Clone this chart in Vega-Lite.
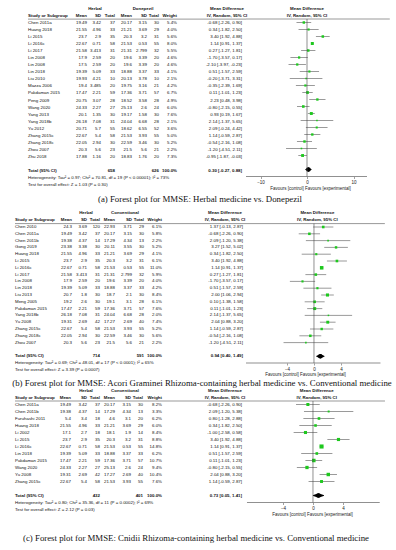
{
"$schema": "https://vega.github.io/schema/vega-lite/v6.json",
"padding": {"top": 5, "left": 0, "right": 0, "bottom": 0},
"columns": 2,
"spacing": {"row": 6, "column": 0},
"bounds": "flush",
"align": "each",
"config": {
 "view": {"stroke": null},
 "text": {"font": "Liberation Sans", "fontSize": 4.4, "baseline": "middle", "color": "#111"},
 "title": {"font": "Liberation Serif", "fontSize": 8.8, "fontWeight": "normal", "color": "#111"}
},
"datasets": {
"a": [
{"study":"Chen 2011a","hm":19.49,"hsd":3.42,"ht":37,"cm":20.17,"csd":3.15,"ct":30,"w":0.054,"md":-0.68,"lo":-2.26,"hi":0.9,"ci":"-0.68 [-2.26, 0.90]"},
{"study":"Huang 2018","hm":21.55,"hsd":4.96,"ht":33,"cm":21.21,"csd":3.69,"ct":29,"w":0.040,"md":0.34,"lo":-1.82,"hi":2.5,"ci":"0.34 [-1.82, 2.50]"},
{"study":"Li 2015","hm":23.7,"hsd":2.9,"ht":35,"cm":20.3,"csd":3.2,"ct":31,"w":0.056,"md":3.4,"lo":1.92,"hi":4.88,"ci":"3.40 [1.92, 4.88]"},
{"study":"Li 2016c","hm":22.67,"hsd":0.71,"ht":58,"cm":21.53,"csd":0.53,"ct":55,"w":0.080,"md":1.14,"lo":0.91,"hi":1.37,"ci":"1.14 [0.91, 1.37]"},
{"study":"Li 2017","hm":21.58,"hsd":3.413,"ht":31,"cm":21.31,"csd":2.799,"ct":32,"w":0.055,"md":0.27,"lo":-1.27,"hi":1.81,"ci":"0.27 [-1.27, 1.81]"},
{"study":"Lin 2008","hm":17.9,"hsd":2.59,"ht":20,"cm":19.6,"csd":3.39,"ct":20,"w":0.046,"md":-1.7,"lo":-3.57,"hi":0.17,"ci":"-1.70 [-3.57, 0.17]"},
{"study":"Lin 2008 ","hm":17.5,"hsd":2.59,"ht":20,"cm":19.6,"csd":3.39,"ct":20,"w":0.046,"md":-2.1,"lo":-3.97,"hi":-0.23,"ci":"-2.10 [-3.97, -0.23]"},
{"study":"Lin 2018","hm":19.39,"hsd":5.09,"ht":33,"cm":18.88,"csd":3.37,"ct":33,"w":0.041,"md":0.51,"lo":-1.57,"hi":2.59,"ci":"0.51 [-1.57, 2.59]"},
{"study":"Liu 2010","hm":19.93,"hsd":4.21,"ht":10,"cm":20.13,"csd":3.78,"ct":10,"w":0.021,"md":-0.2,"lo":-3.71,"hi":3.31,"ci":"-0.20 [-3.71, 3.31]"},
{"study":"Mazza 2006","hm":19.4,"hsd":3.485,"ht":20,"cm":19.75,"csd":3.16,"ct":21,"w":0.042,"md":-0.35,"lo":-2.39,"hi":1.69,"ci":"-0.35 [-2.39, 1.69]"},
{"study":"Pakdaman 2015","hm":17.47,"hsd":2.21,"ht":59,"cm":17.36,"csd":3.71,"ct":57,"w":0.067,"md":0.11,"lo":-1.01,"hi":1.23,"ci":"0.11 [-1.01, 1.23]"},
{"study":"Peng 2009","hm":20.75,"hsd":3.07,"ht":28,"cm":18.52,"csd":3.58,"ct":28,"w":0.049,"md":2.23,"lo":0.48,"hi":3.98,"ci":"2.23 [0.48, 3.98]"},
{"study":"Wang 2020","hm":24.33,"hsd":2.27,"ht":27,"cm":25.13,"csd":2.6,"ct":24,"w":0.060,"md":-0.8,"lo":-2.15,"hi":0.55,"ci":"-0.80 [-2.15, 0.55]"},
{"study":"Yang 2013","hm":20.1,"hsd":1.35,"ht":30,"cm":19.17,"csd":1.58,"ct":30,"w":0.076,"md":0.93,"lo":0.19,"hi":1.67,"ci":"0.93 [0.19, 1.67]"},
{"study":"Yang 2018b","hm":26.18,"hsd":7.08,"ht":31,"cm":24.04,"csd":6.68,"ct":28,"w":0.021,"md":2.14,"lo":-1.37,"hi":5.65,"ci":"2.14 [-1.37, 5.65]"},
{"study":"Yu 2012","hm":20.71,"hsd":5.7,"ht":55,"cm":18.62,"csd":6.55,"ct":52,"w":0.036,"md":2.09,"lo":-0.24,"hi":4.42,"ci":"2.09 [-0.24, 4.42]"},
{"study":"Zhang 2015c","hm":22.67,"hsd":5.4,"ht":58,"cm":21.53,"csd":3.93,"ct":55,"w":0.050,"md":1.14,"lo":-0.59,"hi":2.87,"ci":"1.14 [-0.59, 2.87]"},
{"study":"Zhang 2018c","hm":22.05,"hsd":2.94,"ht":30,"cm":22.59,"csd":3.46,"ct":30,"w":0.052,"md":-0.54,"lo":-2.16,"hi":1.08,"ci":"-0.54 [-2.16, 1.08]"},
{"study":"Zhou 2007","hm":20.3,"hsd":5.6,"ht":23,"cm":21.5,"csd":5.6,"ct":21,"w":0.022,"md":-1.2,"lo":-4.51,"hi":2.11,"ci":"-1.20 [-4.51, 2.11]"},
{"study":"Zhu 2018","hm":17.88,"hsd":1.16,"ht":20,"cm":18.83,"csd":1.76,"ct":20,"w":0.073,"md":-0.95,"lo":-1.87,"hi":-0.03,"ci":"-0.95 [-1.87, -0.03]"}
],
"aT": [{"study":"Total (95% CI)","ht":658,"ct":626,"w":1,"md":0.3,"lo":-0.27,"hi":0.88,"ci":"0.30 [-0.27, 0.88]"}],
"b": [
{"study":"Chen 2010","hm":24.3,"hsd":3.69,"ht":120,"cm":22.93,"csd":3.71,"ct":29,"w":0.061,"md":1.37,"lo":-0.13,"hi":2.87,"ci":"1.37 [-0.13, 2.87]"},
{"study":"Chen 2011a","hm":19.49,"hsd":3.42,"ht":37,"cm":20.17,"csd":3.15,"ct":30,"w":0.058,"md":-0.68,"lo":-2.26,"hi":0.9,"ci":"-0.68 [-2.26, 0.90]"},
{"study":"Chen 2011b","hm":19.38,"hsd":4.37,"ht":14,"cm":17.29,"csd":4.34,"ct":13,"w":0.022,"md":2.09,"lo":-1.2,"hi":5.38,"ci":"2.09 [-1.20, 5.38]"},
{"study":"Gong 2019","hm":23.38,"hsd":3.38,"ht":30,"cm":20.11,"csd":3.55,"ct":30,"w":0.052,"md":3.27,"lo":1.52,"hi":5.02,"ci":"3.27 [1.52, 5.02]"},
{"study":"Huang 2018","hm":21.55,"hsd":4.96,"ht":33,"cm":21.21,"csd":3.69,"ct":29,"w":0.041,"md":0.34,"lo":-1.82,"hi":2.5,"ci":"0.34 [-1.82, 2.50]"},
{"study":"Li 2015","hm":23.7,"hsd":2.9,"ht":35,"cm":20.3,"csd":3.2,"ct":31,"w":0.061,"md":3.4,"lo":1.92,"hi":4.88,"ci":"3.40 [1.92, 4.88]"},
{"study":"Li 2016c","hm":22.67,"hsd":0.71,"ht":58,"cm":21.53,"csd":0.53,"ct":55,"w":0.110,"md":1.14,"lo":0.91,"hi":1.37,"ci":"1.14 [0.91, 1.37]"},
{"study":"Li 2017","hm":21.58,"hsd":3.413,"ht":31,"cm":21.31,"csd":2.799,"ct":32,"w":0.059,"md":0.27,"lo":-1.27,"hi":1.81,"ci":"0.27 [-1.27, 1.81]"},
{"study":"Lin 2008","hm":17.9,"hsd":2.59,"ht":20,"cm":19.6,"csd":3.39,"ct":20,"w":0.040,"md":-1.7,"lo":-3.57,"hi":0.17,"ci":"-1.70 [-3.57, 0.17]"},
{"study":"Lin 2018","hm":19.39,"hsd":5.09,"ht":33,"cm":18.88,"csd":3.37,"ct":33,"w":0.042,"md":0.51,"lo":-1.57,"hi":2.59,"ci":"0.51 [-1.57, 2.59]"},
{"study":"Liu 2013","hm":20.7,"hsd":1.8,"ht":30,"cm":18.7,"csd":2.1,"ct":30,"w":0.084,"md":2.0,"lo":1.06,"hi":2.94,"ci":"2.00 [1.06, 2.94]"},
{"study":"Meng 2005","hm":19.2,"hsd":2.6,"ht":30,"cm":19.1,"csd":3.1,"ct":28,"w":0.061,"md":0.1,"lo":-1.38,"hi":1.58,"ci":"0.10 [-1.38, 1.58]"},
{"study":"Pakdaman 2015","hm":17.47,"hsd":2.21,"ht":59,"cm":17.36,"csd":3.71,"ct":57,"w":0.076,"md":0.11,"lo":-1.01,"hi":1.23,"ci":"0.11 [-1.01, 1.23]"},
{"study":"Yang 2018b","hm":26.18,"hsd":7.08,"ht":31,"cm":24.04,"csd":6.68,"ct":28,"w":0.020,"md":2.14,"lo":-1.37,"hi":5.65,"ci":"2.14 [-1.37, 5.65]"},
{"study":"Yu 2008","hm":19.31,"hsd":2.69,"ht":42,"cm":17.27,"csd":2.69,"ct":40,"w":0.074,"md":2.04,"lo":0.88,"hi":3.2,"ci":"2.04 [0.88, 3.20]"},
{"study":"Zhang 2015c","hm":22.67,"hsd":5.4,"ht":58,"cm":21.53,"csd":3.93,"ct":55,"w":0.052,"md":1.14,"lo":-0.59,"hi":2.87,"ci":"1.14 [-0.59, 2.87]"},
{"study":"Zhang 2018c","hm":22.05,"hsd":2.94,"ht":30,"cm":22.59,"csd":3.46,"ct":30,"w":0.056,"md":-0.54,"lo":-2.16,"hi":1.08,"ci":"-0.54 [-2.16, 1.08]"},
{"study":"Zhou 2007","hm":20.3,"hsd":5.6,"ht":23,"cm":21.5,"csd":5.6,"ct":21,"w":0.022,"md":-1.2,"lo":-4.51,"hi":2.11,"ci":"-1.20 [-4.51, 2.11]"}
],
"bT": [{"study":"Total (95% CI)","ht":714,"ct":591,"w":1,"md":0.94,"lo":0.4,"hi":1.49,"ci":"0.94 [0.40, 1.49]"}],
"c": [
{"study":"Chen 2011a","hm":19.49,"hsd":3.42,"ht":37,"cm":20.17,"csd":3.15,"ct":30,"w":0.082,"md":-0.68,"lo":-2.26,"hi":0.9,"ci":"-0.68 [-2.26, 0.90]"},
{"study":"Chen 2011b","hm":19.38,"hsd":4.37,"ht":14,"cm":17.29,"csd":4.34,"ct":13,"w":0.033,"md":2.09,"lo":-1.2,"hi":5.38,"ci":"2.09 [-1.20, 5.38]"},
{"study":"Furuhashi 2011","hm":5.4,"hsd":3.4,"ht":18,"cm":4.6,"csd":3.1,"ct":20,"w":0.062,"md":0.8,"lo":-1.28,"hi":2.88,"ci":"0.80 [-1.28, 2.88]"},
{"study":"Huang 2018","hm":21.55,"hsd":4.96,"ht":33,"cm":21.21,"csd":3.69,"ct":29,"w":0.060,"md":0.34,"lo":-1.82,"hi":2.5,"ci":"0.34 [-1.82, 2.50]"},
{"study":"Li 2002","hm":17.1,"hsd":2.7,"ht":18,"cm":18.1,"csd":1.9,"ct":14,"w":0.084,"md":-1.0,"lo":-2.58,"hi":0.58,"ci":"-1.00 [-2.58, 0.58]"},
{"study":"Li 2015","hm":23.7,"hsd":2.9,"ht":35,"cm":20.3,"csd":3.2,"ct":31,"w":0.088,"md":3.4,"lo":1.92,"hi":4.88,"ci":"3.40 [1.92, 4.88]"},
{"study":"Li 2016c","hm":22.67,"hsd":0.71,"ht":58,"cm":21.53,"csd":0.53,"ct":55,"w":0.148,"md":1.14,"lo":0.91,"hi":1.37,"ci":"1.14 [0.91, 1.37]"},
{"study":"Lin 2018","hm":19.39,"hsd":5.09,"ht":33,"cm":18.88,"csd":3.37,"ct":33,"w":0.062,"md":0.51,"lo":-1.57,"hi":2.59,"ci":"0.51 [-1.57, 2.59]"},
{"study":"Pakdaman 2015","hm":17.47,"hsd":2.21,"ht":59,"cm":17.36,"csd":3.71,"ct":57,"w":0.107,"md":0.11,"lo":-1.01,"hi":1.23,"ci":"0.11 [-1.01, 1.23]"},
{"study":"Wang 2020","hm":24.33,"hsd":2.27,"ht":27,"cm":25.13,"csd":2.6,"ct":24,"w":0.094,"md":-0.8,"lo":-2.15,"hi":0.55,"ci":"-0.80 [-2.15, 0.55]"},
{"study":"Yu 2008","hm":19.31,"hsd":2.69,"ht":42,"cm":17.27,"csd":2.69,"ct":40,"w":0.104,"md":2.04,"lo":0.88,"hi":3.2,"ci":"2.04 [0.88, 3.20]"},
{"study":"Zhang 2015c","hm":22.67,"hsd":5.4,"ht":58,"cm":21.53,"csd":3.93,"ct":55,"w":0.076,"md":1.14,"lo":-0.59,"hi":2.87,"ci":"1.14 [-0.59, 2.87]"}
],
"cT": [{"study":"Total (95% CI)","ht":432,"ct":401,"w":1,"md":0.73,"lo":0.05,"hi":1.41,"ci":"0.73 [0.05, 1.41]"}]
},
"concat": [
{
 "width": 246, "height": {"step": 7},
 "title": {"text": "(a) Forest plot for MMSE: Herbal medicine vs. Donepezil", "orient": "bottom", "frame": "group", "anchor": "middle", "dx": 77, "dy": -8.1, "offset": 0},
 "encoding": {"y": {"field": "study", "type": "nominal", "axis": null, "scale": {"type": "band", "domain": ["h1","h2","Chen 2011a","Huang 2018","Li 2015","Li 2016c","Li 2017","Lin 2008","Lin 2008 ","Lin 2018","Liu 2010","Mazza 2006","Pakdaman 2015","Peng 2009","Wang 2020","Yang 2013","Yang 2018b","Yu 2012","Zhang 2015c","Zhang 2018c","Zhou 2007","Zhu 2018","gap","Total (95% CI)","het","test"], "paddingInner": 0, "paddingOuter": 1.15, "align": 0}}},
 "layer": [
  {"data": {"name": "a"}, "mark": {"type": "text", "align": "left"}, "encoding": {"x": {"datum": 28, "axis": null, "scale": {"domain": [0, 246], "nice": false, "zero": false}}, "text": {"field": "study", "type": "nominal"}}},
  {"data": {"name": "a"}, "mark": {"type": "text", "align": "right"}, "encoding": {"x": {"datum": 87, "axis": null}, "text": {"field": "hm", "type": "nominal"}}},
  {"data": {"name": "a"}, "mark": {"type": "text", "align": "right"}, "encoding": {"x": {"datum": 101, "axis": null}, "text": {"field": "hsd", "type": "nominal"}}},
  {"data": {"name": "a"}, "mark": {"type": "text", "align": "right"}, "encoding": {"x": {"datum": 115, "axis": null}, "text": {"field": "ht", "type": "nominal"}}},
  {"data": {"name": "a"}, "mark": {"type": "text", "align": "right"}, "encoding": {"x": {"datum": 132, "axis": null}, "text": {"field": "cm", "type": "nominal"}}},
  {"data": {"name": "a"}, "mark": {"type": "text", "align": "right"}, "encoding": {"x": {"datum": 147, "axis": null}, "text": {"field": "csd", "type": "nominal"}}},
  {"data": {"name": "a"}, "mark": {"type": "text", "align": "right"}, "encoding": {"x": {"datum": 159, "axis": null}, "text": {"field": "ct", "type": "nominal"}}},
  {"data": {"name": "a"}, "mark": {"type": "text", "align": "right"}, "encoding": {"x": {"datum": 177, "axis": null}, "text": {"field": "w", "type": "quantitative", "format": ".1%"}}},
  {"data": {"name": "a"}, "mark": {"type": "text", "align": "right"}, "encoding": {"x": {"datum": 242, "axis": null}, "text": {"field": "ci", "type": "nominal"}}},
  {"data": {"name": "aT"}, "mark": {"type": "text", "align": "left", "fontWeight": "bold"}, "encoding": {"x": {"datum": 28, "axis": null}, "text": {"field": "study", "type": "nominal"}}},
  {"data": {"name": "aT"}, "mark": {"type": "text", "align": "right", "fontWeight": "bold"}, "encoding": {"x": {"datum": 115, "axis": null}, "text": {"field": "ht", "type": "nominal"}}},
  {"data": {"name": "aT"}, "mark": {"type": "text", "align": "right", "fontWeight": "bold"}, "encoding": {"x": {"datum": 159, "axis": null}, "text": {"field": "ct", "type": "nominal"}}},
  {"data": {"name": "aT"}, "mark": {"type": "text", "align": "right", "fontWeight": "bold"}, "encoding": {"x": {"datum": 177, "axis": null}, "text": {"field": "w", "type": "quantitative", "format": ".1%"}}},
  {"data": {"name": "aT"}, "mark": {"type": "text", "align": "right", "fontWeight": "bold"}, "encoding": {"x": {"datum": 242, "axis": null}, "text": {"field": "ci", "type": "nominal"}}},
  {"data": {"values": [{}]}, "mark": {"type": "text", "align": "center", "fontWeight": "bold", "text": "Herbal"}, "encoding": {"x": {"datum": 95, "axis": null}, "y": {"datum": "h1", "axis": null}}},
  {"data": {"values": [{}]}, "mark": {"type": "text", "align": "center", "fontWeight": "bold", "text": "Donepezil"}, "encoding": {"x": {"datum": 143, "axis": null}, "y": {"datum": "h1", "axis": null}}},
  {"data": {"values": [{}]}, "mark": {"type": "text", "align": "center", "fontWeight": "bold", "text": "Mean Difference"}, "encoding": {"x": {"datum": 227, "axis": null}, "y": {"datum": "h1", "axis": null}}},
  {"data": {"values": [{}]}, "mark": {"type": "text", "align": "left", "fontWeight": "bold", "text": "Study or Subgroup"}, "encoding": {"x": {"datum": 28, "axis": null}, "y": {"datum": "h2", "axis": null}}},
  {"data": {"values": [{}]}, "mark": {"type": "text", "align": "right", "fontWeight": "bold", "text": "Mean"}, "encoding": {"x": {"datum": 87, "axis": null}, "y": {"datum": "h2", "axis": null}}},
  {"data": {"values": [{}]}, "mark": {"type": "text", "align": "right", "fontWeight": "bold", "text": "SD"}, "encoding": {"x": {"datum": 101, "axis": null}, "y": {"datum": "h2", "axis": null}}},
  {"data": {"values": [{}]}, "mark": {"type": "text", "align": "right", "fontWeight": "bold", "text": "Total"}, "encoding": {"x": {"datum": 115, "axis": null}, "y": {"datum": "h2", "axis": null}}},
  {"data": {"values": [{}]}, "mark": {"type": "text", "align": "right", "fontWeight": "bold", "text": "Mean"}, "encoding": {"x": {"datum": 132, "axis": null}, "y": {"datum": "h2", "axis": null}}},
  {"data": {"values": [{}]}, "mark": {"type": "text", "align": "right", "fontWeight": "bold", "text": "SD"}, "encoding": {"x": {"datum": 147, "axis": null}, "y": {"datum": "h2", "axis": null}}},
  {"data": {"values": [{}]}, "mark": {"type": "text", "align": "right", "fontWeight": "bold", "text": "Total"}, "encoding": {"x": {"datum": 159, "axis": null}, "y": {"datum": "h2", "axis": null}}},
  {"data": {"values": [{}]}, "mark": {"type": "text", "align": "right", "fontWeight": "bold", "text": "Weight"}, "encoding": {"x": {"datum": 177, "axis": null}, "y": {"datum": "h2", "axis": null}}},
  {"data": {"values": [{}]}, "mark": {"type": "text", "align": "center", "fontWeight": "bold", "text": "IV, Random, 95% CI"}, "encoding": {"x": {"datum": 227, "axis": null}, "y": {"datum": "h2", "axis": null}}},
  {"data": {"values": [{}]}, "mark": {"type": "text", "align": "left", "text": "Heterogeneity: Tau² = 0.97; Chi² = 70.81, df = 19 (P < 0.00001); I² = 73%"}, "encoding": {"x": {"datum": 28, "axis": null}, "y": {"datum": "het", "axis": null}}},
  {"data": {"values": [{}]}, "mark": {"type": "text", "align": "left", "text": "Test for overall effect: Z = 1.03 (P = 0.30)"}, "encoding": {"x": {"datum": 28, "axis": null}, "y": {"datum": "test", "axis": null}}},
  {"data": {"values": [{}]}, "mark": {"type": "rule", "color": "#333", "strokeWidth": 0.5, "yOffset": 3.5}, "encoding": {"x": {"datum": 28, "axis": null}, "x2": {"datum": 246}, "y": {"datum": "h2", "axis": null}}}
 ]
},
{
 "width": 150, "height": {"step": 7},
 "resolve": {"scale": {"size": "independent"}},
 "encoding": {"y": {"field": "study", "type": "nominal", "axis": null, "scale": {"type": "band", "domain": ["h1","h2","Chen 2011a","Huang 2018","Li 2015","Li 2016c","Li 2017","Lin 2008","Lin 2008 ","Lin 2018","Liu 2010","Mazza 2006","Pakdaman 2015","Peng 2009","Wang 2020","Yang 2013","Yang 2018b","Yu 2012","Zhang 2015c","Zhang 2018c","Zhou 2007","Zhu 2018","gap","Total (95% CI)"], "paddingInner": 0, "paddingOuter": 0.25, "align": 0}}},
 "layer": [
  {"data": {"name": "a"}, "mark": {"type": "rule", "color": "#555", "strokeWidth": 0.6}, "encoding": {"x": {"field": "lo", "type": "quantitative", "scale": {"domain": [-13.12, 19.14], "nice": false, "zero": false}, "axis": {"values": [-10, -5, 0, 5, 10], "domain": false, "grid": false, "tickSize": 2, "tickColor": "#444", "tickWidth": 0.5, "labelFontSize": 4.5, "labelFont": "Liberation Sans", "labelColor": "#222", "labelPadding": 1, "labelFlush": false, "labelOverlap": false, "title": "Favours [control]   Favours [experimental]", "titleFont": "Liberation Sans", "titleFontSize": 4.5, "titleFontWeight": "normal", "titleColor": "#222", "titlePadding": 1.5, "titleX": 64}}, "x2": {"field": "hi"}}},
  {"data": {"name": "a"}, "mark": {"type": "square", "filled": true, "color": "#1ec81e", "opacity": 1}, "encoding": {"x": {"field": "md", "type": "quantitative"}, "size": {"field": "w", "type": "quantitative", "scale": {"domain": [0, 0.15], "range": [0, 17]}, "legend": null}}},
  {"data": {"name": "aT"}, "transform": [{"fold": ["lo", "md"], "as": ["part", "val"]}], "mark": {"type": "trail", "color": "#000"}, "encoding": {"x": {"field": "val", "type": "quantitative"}, "size": {"field": "val", "type": "quantitative", "scale": {"range": [0, 4.5], "zero": false, "nice": false}, "legend": null}}},
  {"data": {"name": "aT"}, "transform": [{"fold": ["md", "hi"], "as": ["part", "val"]}], "mark": {"type": "trail", "color": "#000"}, "encoding": {"x": {"field": "val", "type": "quantitative"}, "size": {"field": "val", "type": "quantitative", "scale": {"range": [0, 4.5], "zero": false, "nice": false, "reverse": true}, "legend": null}}},
  {"data": {"values": [{}]}, "mark": {"type": "rule", "color": "#444", "strokeWidth": 0.6, "yOffset": 3.5, "y2Offset": 7}, "encoding": {"x": {"datum": 0}, "y": {"datum": "h2", "axis": null}, "y2": {"datum": "Total (95% CI)"}}},
  {"data": {"values": [{}]}, "mark": {"type": "rule", "color": "#444", "strokeWidth": 0.6, "yOffset": 7}, "encoding": {"x": {"datum": -13.12}, "x2": {"datum": 12.9}, "y": {"datum": "Total (95% CI)", "axis": null}}},
  {"data": {"values": [{}]}, "mark": {"type": "rule", "color": "#333", "strokeWidth": 0.5, "yOffset": 3.5}, "encoding": {"x": {"datum": -13.12}, "x2": {"datum": 17.8}, "y": {"datum": "h2", "axis": null}}},
  {"data": {"values": [{}]}, "mark": {"type": "text", "align": "center", "fontWeight": "bold", "text": "Mean Difference"}, "encoding": {"x": {"datum": 0}, "y": {"datum": "h1", "axis": null}}},
  {"data": {"values": [{}]}, "mark": {"type": "text", "align": "center", "fontWeight": "bold", "text": "IV, Random, 95% CI"}, "encoding": {"x": {"datum": 0}, "y": {"datum": "h2", "axis": null}}}
 ]
},
{
 "width": 246, "height": {"step": 6.8},
 "title": {"text": "(b) Forest plot for MMSE: Acori Graminei Rhizoma-containing herbal medicine vs. Conventional medicine", "orient": "bottom", "frame": "group", "anchor": "middle", "dx": 79, "dy": -2.2, "offset": 0},
 "encoding": {"y": {"field": "study", "type": "nominal", "axis": null, "scale": {"type": "band", "domain": ["h1","h2","Chen 2010","Chen 2011a","Chen 2011b","Gong 2019","Huang 2018","Li 2015","Li 2016c","Li 2017","Lin 2008","Lin 2018","Liu 2013","Meng 2005","Pakdaman 2015","Yang 2018b","Yu 2008","Zhang 2015c","Zhang 2018c","Zhou 2007","gap","Total (95% CI)","het","test"], "paddingInner": 0, "paddingOuter": 0.566, "align": 0}}},
 "layer": [
  {"data": {"name": "b"}, "mark": {"type": "text", "align": "left"}, "encoding": {"x": {"datum": 15, "axis": null, "scale": {"domain": [0, 246], "nice": false, "zero": false}}, "text": {"field": "study", "type": "nominal"}}},
  {"data": {"name": "b"}, "mark": {"type": "text", "align": "right"}, "encoding": {"x": {"datum": 72, "axis": null}, "text": {"field": "hm", "type": "nominal"}}},
  {"data": {"name": "b"}, "mark": {"type": "text", "align": "right"}, "encoding": {"x": {"datum": 87, "axis": null}, "text": {"field": "hsd", "type": "nominal"}}},
  {"data": {"name": "b"}, "mark": {"type": "text", "align": "right"}, "encoding": {"x": {"datum": 100, "axis": null}, "text": {"field": "ht", "type": "nominal"}}},
  {"data": {"name": "b"}, "mark": {"type": "text", "align": "right"}, "encoding": {"x": {"datum": 115, "axis": null}, "text": {"field": "cm", "type": "nominal"}}},
  {"data": {"name": "b"}, "mark": {"type": "text", "align": "right"}, "encoding": {"x": {"datum": 132, "axis": null}, "text": {"field": "csd", "type": "nominal"}}},
  {"data": {"name": "b"}, "mark": {"type": "text", "align": "right"}, "encoding": {"x": {"datum": 144, "axis": null}, "text": {"field": "ct", "type": "nominal"}}},
  {"data": {"name": "b"}, "mark": {"type": "text", "align": "right"}, "encoding": {"x": {"datum": 162, "axis": null}, "text": {"field": "w", "type": "quantitative", "format": ".1%"}}},
  {"data": {"name": "b"}, "mark": {"type": "text", "align": "right"}, "encoding": {"x": {"datum": 243, "axis": null}, "text": {"field": "ci", "type": "nominal"}}},
  {"data": {"name": "bT"}, "mark": {"type": "text", "align": "left", "fontWeight": "bold"}, "encoding": {"x": {"datum": 15, "axis": null}, "text": {"field": "study", "type": "nominal"}}},
  {"data": {"name": "bT"}, "mark": {"type": "text", "align": "right", "fontWeight": "bold"}, "encoding": {"x": {"datum": 100, "axis": null}, "text": {"field": "ht", "type": "nominal"}}},
  {"data": {"name": "bT"}, "mark": {"type": "text", "align": "right", "fontWeight": "bold"}, "encoding": {"x": {"datum": 144, "axis": null}, "text": {"field": "ct", "type": "nominal"}}},
  {"data": {"name": "bT"}, "mark": {"type": "text", "align": "right", "fontWeight": "bold"}, "encoding": {"x": {"datum": 162, "axis": null}, "text": {"field": "w", "type": "quantitative", "format": ".1%"}}},
  {"data": {"name": "bT"}, "mark": {"type": "text", "align": "right", "fontWeight": "bold"}, "encoding": {"x": {"datum": 243, "axis": null}, "text": {"field": "ci", "type": "nominal"}}},
  {"data": {"values": [{}]}, "mark": {"type": "text", "align": "center", "fontWeight": "bold", "text": "Herbal"}, "encoding": {"x": {"datum": 86, "axis": null}, "y": {"datum": "h1", "axis": null}}},
  {"data": {"values": [{}]}, "mark": {"type": "text", "align": "center", "fontWeight": "bold", "text": "Conventional"}, "encoding": {"x": {"datum": 125, "axis": null}, "y": {"datum": "h1", "axis": null}}},
  {"data": {"values": [{}]}, "mark": {"type": "text", "align": "center", "fontWeight": "bold", "text": "Mean Difference"}, "encoding": {"x": {"datum": 225, "axis": null}, "y": {"datum": "h1", "axis": null}}},
  {"data": {"values": [{}]}, "mark": {"type": "text", "align": "left", "fontWeight": "bold", "text": "Study or Subgroup"}, "encoding": {"x": {"datum": 15, "axis": null}, "y": {"datum": "h2", "axis": null}}},
  {"data": {"values": [{}]}, "mark": {"type": "text", "align": "right", "fontWeight": "bold", "text": "Mean"}, "encoding": {"x": {"datum": 72, "axis": null}, "y": {"datum": "h2", "axis": null}}},
  {"data": {"values": [{}]}, "mark": {"type": "text", "align": "right", "fontWeight": "bold", "text": "SD"}, "encoding": {"x": {"datum": 87, "axis": null}, "y": {"datum": "h2", "axis": null}}},
  {"data": {"values": [{}]}, "mark": {"type": "text", "align": "right", "fontWeight": "bold", "text": "Total"}, "encoding": {"x": {"datum": 100, "axis": null}, "y": {"datum": "h2", "axis": null}}},
  {"data": {"values": [{}]}, "mark": {"type": "text", "align": "right", "fontWeight": "bold", "text": "Mean"}, "encoding": {"x": {"datum": 115, "axis": null}, "y": {"datum": "h2", "axis": null}}},
  {"data": {"values": [{}]}, "mark": {"type": "text", "align": "right", "fontWeight": "bold", "text": "SD"}, "encoding": {"x": {"datum": 132, "axis": null}, "y": {"datum": "h2", "axis": null}}},
  {"data": {"values": [{}]}, "mark": {"type": "text", "align": "right", "fontWeight": "bold", "text": "Total"}, "encoding": {"x": {"datum": 144, "axis": null}, "y": {"datum": "h2", "axis": null}}},
  {"data": {"values": [{}]}, "mark": {"type": "text", "align": "right", "fontWeight": "bold", "text": "Weight"}, "encoding": {"x": {"datum": 162, "axis": null}, "y": {"datum": "h2", "axis": null}}},
  {"data": {"values": [{}]}, "mark": {"type": "text", "align": "center", "fontWeight": "bold", "text": "IV, Random, 95% CI"}, "encoding": {"x": {"datum": 225, "axis": null}, "y": {"datum": "h2", "axis": null}}},
  {"data": {"values": [{}]}, "mark": {"type": "text", "align": "left", "text": "Heterogeneity: Tau² = 0.69; Chi² = 48.01, df = 17 (P < 0.0001); I² = 65%"}, "encoding": {"x": {"datum": 15, "axis": null}, "y": {"datum": "het", "axis": null}}},
  {"data": {"values": [{}]}, "mark": {"type": "text", "align": "left", "text": "Test for overall effect: Z = 3.39 (P = 0.0007)"}, "encoding": {"x": {"datum": 15, "axis": null}, "y": {"datum": "test", "axis": null}}},
  {"data": {"values": [{}]}, "mark": {"type": "rule", "color": "#333", "strokeWidth": 0.5, "yOffset": 3.4}, "encoding": {"x": {"datum": 15, "axis": null}, "x2": {"datum": 246}, "y": {"datum": "h2", "axis": null}}}
 ]
},
{
 "width": 150, "height": {"step": 6.8},
 "resolve": {"scale": {"size": "independent"}},
 "encoding": {"y": {"field": "study", "type": "nominal", "axis": null, "scale": {"type": "band", "domain": ["h1","h2","Chen 2010","Chen 2011a","Chen 2011b","Gong 2019","Huang 2018","Li 2015","Li 2016c","Li 2017","Lin 2008","Lin 2018","Liu 2013","Meng 2005","Pakdaman 2015","Yang 2018b","Yu 2008","Zhang 2015c","Zhang 2018c","Zhou 2007","gap","Total (95% CI)"], "paddingInner": 0, "paddingOuter": 0.25, "align": 0}}},
 "layer": [
  {"data": {"name": "b"}, "mark": {"type": "rule", "color": "#555", "strokeWidth": 0.6}, "encoding": {"x": {"field": "lo", "type": "quantitative", "scale": {"domain": [-10.07, 12.15], "nice": false, "zero": false}, "axis": {"values": [-4, -2, 0, 2, 4], "domain": false, "grid": false, "tickSize": 2, "tickColor": "#444", "tickWidth": 0.5, "labelFontSize": 4.5, "labelFont": "Liberation Sans", "labelColor": "#222", "labelPadding": 1, "labelFlush": false, "labelOverlap": false, "title": "Favours [control]   Favours [experimental]", "titleFont": "Liberation Sans", "titleFontSize": 4.5, "titleFontWeight": "normal", "titleColor": "#222", "titlePadding": 1, "titleX": 59}}, "x2": {"field": "hi"}}},
  {"data": {"name": "b"}, "mark": {"type": "square", "filled": true, "color": "#1ec81e", "opacity": 1}, "encoding": {"x": {"field": "md", "type": "quantitative"}, "size": {"field": "w", "type": "quantitative", "scale": {"domain": [0, 0.15], "range": [0, 17]}, "legend": null}}},
  {"data": {"name": "bT"}, "transform": [{"fold": ["lo", "md"], "as": ["part", "val"]}], "mark": {"type": "trail", "color": "#000"}, "encoding": {"x": {"field": "val", "type": "quantitative"}, "size": {"field": "val", "type": "quantitative", "scale": {"range": [0, 4.5], "zero": false, "nice": false}, "legend": null}}},
  {"data": {"name": "bT"}, "transform": [{"fold": ["md", "hi"], "as": ["part", "val"]}], "mark": {"type": "trail", "color": "#000"}, "encoding": {"x": {"field": "val", "type": "quantitative"}, "size": {"field": "val", "type": "quantitative", "scale": {"range": [0, 4.5], "zero": false, "nice": false, "reverse": true}, "legend": null}}},
  {"data": {"values": [{}]}, "mark": {"type": "rule", "color": "#444", "strokeWidth": 0.6, "yOffset": 3.4, "y2Offset": 6.8}, "encoding": {"x": {"datum": 0}, "y": {"datum": "h2", "axis": null}, "y2": {"datum": "Total (95% CI)"}}},
  {"data": {"values": [{}]}, "mark": {"type": "rule", "color": "#444", "strokeWidth": 0.6, "yOffset": 6.8}, "encoding": {"x": {"datum": -10.07}, "x2": {"datum": 9.85}, "y": {"datum": "Total (95% CI)", "axis": null}}},
  {"data": {"values": [{}]}, "mark": {"type": "rule", "color": "#333", "strokeWidth": 0.5, "yOffset": 3.4}, "encoding": {"x": {"datum": -10.07}, "x2": {"datum": 10.5}, "y": {"datum": "h2", "axis": null}}},
  {"data": {"values": [{}]}, "mark": {"type": "text", "align": "center", "fontWeight": "bold", "text": "Mean Difference"}, "encoding": {"x": {"datum": 0.5}, "y": {"datum": "h1", "axis": null}}},
  {"data": {"values": [{}]}, "mark": {"type": "text", "align": "center", "fontWeight": "bold", "text": "IV, Random, 95% CI"}, "encoding": {"x": {"datum": 0.5}, "y": {"datum": "h2", "axis": null}}}
 ]
},
{
 "width": 246, "height": {"step": 7},
 "title": {"text": "(c) Forest plot for MMSE: Cnidii Rhizoma-containing herbal medicine vs. Conventional medicine", "orient": "bottom", "frame": "group", "anchor": "middle", "dx": 73, "dy": 20.6, "offset": 0},
 "encoding": {"y": {"field": "study", "type": "nominal", "axis": null, "scale": {"type": "band", "domain": ["h1","h2","Chen 2011a","Chen 2011b","Furuhashi 2011","Huang 2018","Li 2002","Li 2015","Li 2016c","Lin 2018","Pakdaman 2015","Wang 2020","Yu 2008","Zhang 2015c","gap","Total (95% CI)","het","test"], "paddingInner": 0, "paddingOuter": 0, "align": 0}}},
 "layer": [
  {"data": {"name": "c"}, "mark": {"type": "text", "align": "left"}, "encoding": {"x": {"datum": 15, "axis": null, "scale": {"domain": [0, 246], "nice": false, "zero": false}}, "text": {"field": "study", "type": "nominal"}}},
  {"data": {"name": "c"}, "mark": {"type": "text", "align": "right"}, "encoding": {"x": {"datum": 71, "axis": null}, "text": {"field": "hm", "type": "nominal"}}},
  {"data": {"name": "c"}, "mark": {"type": "text", "align": "right"}, "encoding": {"x": {"datum": 87, "axis": null}, "text": {"field": "hsd", "type": "nominal"}}},
  {"data": {"name": "c"}, "mark": {"type": "text", "align": "right"}, "encoding": {"x": {"datum": 100, "axis": null}, "text": {"field": "ht", "type": "nominal"}}},
  {"data": {"name": "c"}, "mark": {"type": "text", "align": "right"}, "encoding": {"x": {"datum": 115, "axis": null}, "text": {"field": "cm", "type": "nominal"}}},
  {"data": {"name": "c"}, "mark": {"type": "text", "align": "right"}, "encoding": {"x": {"datum": 131, "axis": null}, "text": {"field": "csd", "type": "nominal"}}},
  {"data": {"name": "c"}, "mark": {"type": "text", "align": "right"}, "encoding": {"x": {"datum": 143, "axis": null}, "text": {"field": "ct", "type": "nominal"}}},
  {"data": {"name": "c"}, "mark": {"type": "text", "align": "right"}, "encoding": {"x": {"datum": 162, "axis": null}, "text": {"field": "w", "type": "quantitative", "format": ".1%"}}},
  {"data": {"name": "c"}, "mark": {"type": "text", "align": "right"}, "encoding": {"x": {"datum": 242, "axis": null}, "text": {"field": "ci", "type": "nominal"}}},
  {"data": {"name": "cT"}, "mark": {"type": "text", "align": "left", "fontWeight": "bold"}, "encoding": {"x": {"datum": 15, "axis": null}, "text": {"field": "study", "type": "nominal"}}},
  {"data": {"name": "cT"}, "mark": {"type": "text", "align": "right", "fontWeight": "bold"}, "encoding": {"x": {"datum": 100, "axis": null}, "text": {"field": "ht", "type": "nominal"}}},
  {"data": {"name": "cT"}, "mark": {"type": "text", "align": "right", "fontWeight": "bold"}, "encoding": {"x": {"datum": 143, "axis": null}, "text": {"field": "ct", "type": "nominal"}}},
  {"data": {"name": "cT"}, "mark": {"type": "text", "align": "right", "fontWeight": "bold"}, "encoding": {"x": {"datum": 162, "axis": null}, "text": {"field": "w", "type": "quantitative", "format": ".1%"}}},
  {"data": {"name": "cT"}, "mark": {"type": "text", "align": "right", "fontWeight": "bold"}, "encoding": {"x": {"datum": 242, "axis": null}, "text": {"field": "ci", "type": "nominal"}}},
  {"data": {"values": [{}]}, "mark": {"type": "text", "align": "center", "fontWeight": "bold", "text": "Herbal"}, "encoding": {"x": {"datum": 86, "axis": null}, "y": {"datum": "h1", "axis": null}}},
  {"data": {"values": [{}]}, "mark": {"type": "text", "align": "center", "fontWeight": "bold", "text": "Conventional"}, "encoding": {"x": {"datum": 125, "axis": null}, "y": {"datum": "h1", "axis": null}}},
  {"data": {"values": [{}]}, "mark": {"type": "text", "align": "center", "fontWeight": "bold", "text": "Mean Difference"}, "encoding": {"x": {"datum": 225, "axis": null}, "y": {"datum": "h1", "axis": null}}},
  {"data": {"values": [{}]}, "mark": {"type": "text", "align": "left", "fontWeight": "bold", "text": "Study or Subgroup"}, "encoding": {"x": {"datum": 15, "axis": null}, "y": {"datum": "h2", "axis": null}}},
  {"data": {"values": [{}]}, "mark": {"type": "text", "align": "right", "fontWeight": "bold", "text": "Mean"}, "encoding": {"x": {"datum": 71, "axis": null}, "y": {"datum": "h2", "axis": null}}},
  {"data": {"values": [{}]}, "mark": {"type": "text", "align": "right", "fontWeight": "bold", "text": "SD"}, "encoding": {"x": {"datum": 87, "axis": null}, "y": {"datum": "h2", "axis": null}}},
  {"data": {"values": [{}]}, "mark": {"type": "text", "align": "right", "fontWeight": "bold", "text": "Total"}, "encoding": {"x": {"datum": 100, "axis": null}, "y": {"datum": "h2", "axis": null}}},
  {"data": {"values": [{}]}, "mark": {"type": "text", "align": "right", "fontWeight": "bold", "text": "Mean"}, "encoding": {"x": {"datum": 115, "axis": null}, "y": {"datum": "h2", "axis": null}}},
  {"data": {"values": [{}]}, "mark": {"type": "text", "align": "right", "fontWeight": "bold", "text": "SD"}, "encoding": {"x": {"datum": 131, "axis": null}, "y": {"datum": "h2", "axis": null}}},
  {"data": {"values": [{}]}, "mark": {"type": "text", "align": "right", "fontWeight": "bold", "text": "Total"}, "encoding": {"x": {"datum": 143, "axis": null}, "y": {"datum": "h2", "axis": null}}},
  {"data": {"values": [{}]}, "mark": {"type": "text", "align": "right", "fontWeight": "bold", "text": "Weight"}, "encoding": {"x": {"datum": 162, "axis": null}, "y": {"datum": "h2", "axis": null}}},
  {"data": {"values": [{}]}, "mark": {"type": "text", "align": "center", "fontWeight": "bold", "text": "IV, Random, 95% CI"}, "encoding": {"x": {"datum": 225, "axis": null}, "y": {"datum": "h2", "axis": null}}},
  {"data": {"values": [{}]}, "mark": {"type": "text", "align": "left", "text": "Heterogeneity: Tau² = 0.80; Chi² = 35.36, df = 11 (P = 0.0002); I² = 69%"}, "encoding": {"x": {"datum": 15, "axis": null}, "y": {"datum": "het", "axis": null}}},
  {"data": {"values": [{}]}, "mark": {"type": "text", "align": "left", "text": "Test for overall effect: Z = 2.12 (P = 0.03)"}, "encoding": {"x": {"datum": 15, "axis": null}, "y": {"datum": "test", "axis": null}}},
  {"data": {"values": [{}]}, "mark": {"type": "rule", "color": "#333", "strokeWidth": 0.5, "yOffset": 3.5}, "encoding": {"x": {"datum": 15, "axis": null}, "x2": {"datum": 246}, "y": {"datum": "h2", "axis": null}}}
 ]
},
{
 "width": 150, "height": {"step": 7},
 "resolve": {"scale": {"size": "independent"}},
 "encoding": {"y": {"field": "study", "type": "nominal", "axis": null, "scale": {"type": "band", "domain": ["h1","h2","Chen 2011a","Chen 2011b","Furuhashi 2011","Huang 2018","Li 2002","Li 2015","Li 2016c","Lin 2018","Pakdaman 2015","Wang 2020","Yu 2008","Zhang 2015c","gap","Total (95% CI)"], "paddingInner": 0, "paddingOuter": 0.25, "align": 0}}},
 "layer": [
  {"data": {"name": "c"}, "mark": {"type": "rule", "color": "#555", "strokeWidth": 0.6}, "encoding": {"x": {"field": "lo", "type": "quantitative", "scale": {"domain": [-8.93, 11.07], "nice": false, "zero": false}, "axis": {"values": [-4, -2, 0, 2, 4], "domain": false, "grid": false, "tickSize": 2, "tickColor": "#444", "tickWidth": 0.5, "labelFontSize": 4.5, "labelFont": "Liberation Sans", "labelColor": "#222", "labelPadding": 1, "labelFlush": false, "labelOverlap": false, "title": "Favours [control]   Favours [experimental]", "titleFont": "Liberation Sans", "titleFontSize": 4.5, "titleFontWeight": "normal", "titleColor": "#222", "titlePadding": 1.5, "titleX": 66}}, "x2": {"field": "hi"}}},
  {"data": {"name": "c"}, "mark": {"type": "square", "filled": true, "color": "#1ec81e", "opacity": 1}, "encoding": {"x": {"field": "md", "type": "quantitative"}, "size": {"field": "w", "type": "quantitative", "scale": {"domain": [0, 0.15], "range": [0, 17]}, "legend": null}}},
  {"data": {"name": "cT"}, "transform": [{"fold": ["lo", "md"], "as": ["part", "val"]}], "mark": {"type": "trail", "color": "#000"}, "encoding": {"x": {"field": "val", "type": "quantitative"}, "size": {"field": "val", "type": "quantitative", "scale": {"range": [0, 4.5], "zero": false, "nice": false}, "legend": null}}},
  {"data": {"name": "cT"}, "transform": [{"fold": ["md", "hi"], "as": ["part", "val"]}], "mark": {"type": "trail", "color": "#000"}, "encoding": {"x": {"field": "val", "type": "quantitative"}, "size": {"field": "val", "type": "quantitative", "scale": {"range": [0, 4.5], "zero": false, "nice": false, "reverse": true}, "legend": null}}},
  {"data": {"values": [{}]}, "mark": {"type": "rule", "color": "#444", "strokeWidth": 0.6, "yOffset": 3.5, "y2Offset": 7}, "encoding": {"x": {"datum": 0}, "y": {"datum": "h2", "axis": null}, "y2": {"datum": "Total (95% CI)"}}},
  {"data": {"values": [{}]}, "mark": {"type": "rule", "color": "#444", "strokeWidth": 0.6, "yOffset": 7}, "encoding": {"x": {"datum": -8.8}, "x2": {"datum": 8.9}, "y": {"datum": "Total (95% CI)", "axis": null}}},
  {"data": {"values": [{}]}, "mark": {"type": "rule", "color": "#333", "strokeWidth": 0.5, "yOffset": 3.5}, "encoding": {"x": {"datum": -8.93}, "x2": {"datum": 9.6}, "y": {"datum": "h2", "axis": null}}},
  {"data": {"values": [{}]}, "mark": {"type": "text", "align": "center", "fontWeight": "bold", "text": "Mean Difference"}, "encoding": {"x": {"datum": 0.5}, "y": {"datum": "h1", "axis": null}}},
  {"data": {"values": [{}]}, "mark": {"type": "text", "align": "center", "fontWeight": "bold", "text": "IV, Random, 95% CI"}, "encoding": {"x": {"datum": 0.5}, "y": {"datum": "h2", "axis": null}}}
 ]
}
]
}
